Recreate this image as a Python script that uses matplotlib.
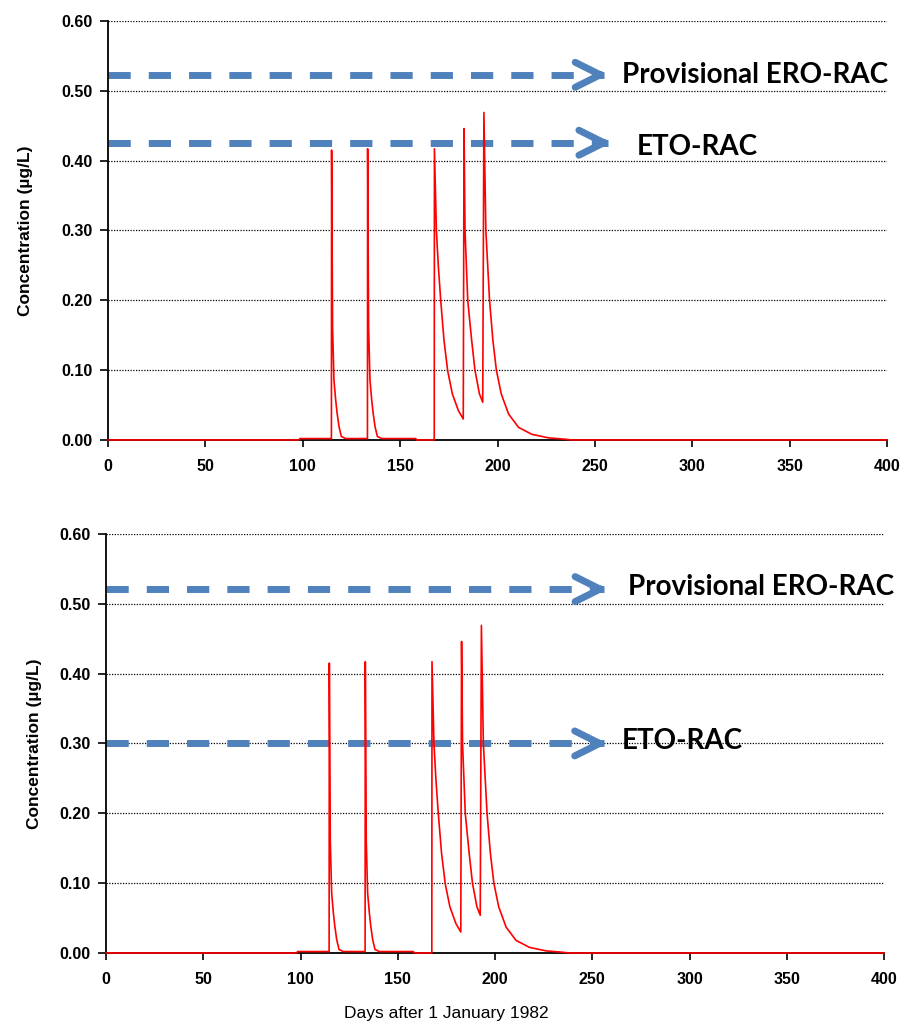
import matplotlib
matplotlib.use("Agg")
import matplotlib.pyplot as plt

# Concentration en fonction du temps
days = [0, 98, 98.5,
        114.7, 114.8, 115.3, 116.0, 116.9, 117.6, 118.6, 119.8, 122,
        133.2, 133.3, 133.8, 134.5, 135.4, 136.1, 137.1, 138.3, 140.5,
        158, 158.5,
        167.5, 167.6, 168.6, 169.6, 170.8, 172.5, 174.4, 176.8, 179.9, 182.4,
        182.8, 183.3, 184.7, 186.7, 188.4, 190.7, 192.4,
        193.0, 194.0, 195.9, 197.6, 199.4, 201.9, 205.7, 210.8, 217.7, 226.2,
        234.8, 238, 400]
conc = [0, 0, 0.002,
        0.002, 0.415, 0.16, 0.086, 0.057, 0.039, 0.019, 0.005, 0.002,
        0.002, 0.417, 0.16, 0.086, 0.057, 0.039, 0.019, 0.005, 0.002,
        0.002, 0.0,
        0.0, 0.417, 0.30, 0.249, 0.201, 0.143, 0.099, 0.066, 0.042, 0.030,
        0.446, 0.30, 0.20, 0.143, 0.10, 0.066, 0.054,
        0.469, 0.30, 0.20, 0.143, 0.10, 0.066, 0.037, 0.018, 0.008, 0.003,
        0.001, 0.0, 0.0]

# Seuils (RAC) pour chaque graphique
ero_rac = [0.523, 0.521]
eto_rac = [0.4257, 0.30]
arrow_end_ero = [256.7, 258.0]
arrow_end_eto = [258.6, 257.8]
label_ero = "Provisional ERO-RAC"
label_eto = "ETO-RAC"
label_x_ero = [263.9, 268.4]
label_x_eto = [271.4, 265.3]
label_y_ero = [0.523, 0.524]
label_y_eto = [0.42, 0.303]

xticks = [0, 50, 100, 150, 200, 250, 300, 350, 400]
yticks = [0.0, 0.1, 0.2, 0.3, 0.4, 0.5, 0.6]

blue = "#4F81BD"
tick_font = dict(family="Liberation Sans", weight="bold", size=11.5)

fig = plt.figure(figsize=(9.14, 10.26), dpi=100)
positions = [[0.1182, 0.5712, 0.8523, 0.4083],
             [0.1160, 0.0712, 0.8512, 0.4084]]
ylabel_x = [-0.096, -0.082]

for i, pos in enumerate(positions):
    ax = fig.add_axes(pos)
    ax.set_xlim(0, 400)
    ax.set_ylim(0, 0.6)
    ax.set_xticks(xticks)
    ax.set_yticks(yticks)
    ax.set_xticklabels([str(v) for v in xticks], fontdict=tick_font)
    ax.set_yticklabels([f"{v:.2f}" for v in yticks], fontdict=tick_font)
    ax.tick_params(axis="y", direction="out", length=6, width=1.2, pad=5)
    ax.tick_params(axis="x", direction="out", length=5, width=1.2, pad=9)
    for s in ["top", "right"]:
        ax.spines[s].set_visible(False)
    for s in ["left", "bottom"]:
        ax.spines[s].set_linewidth(1.3)
        ax.spines[s].set_color("black")

    # grille pointillée
    for yv in yticks[1:]:
        ax.axhline(yv, color="black", lw=0.9, ls=(0, (1, 1.2)), zorder=1)

    # seuils en flèches pointillées bleues
    for yv, xe in [(ero_rac[i], arrow_end_ero[i]), (eto_rac[i], arrow_end_eto[i])]:
        ax.plot([0, xe - 2], [yv, yv], color=blue, lw=5, dashes=(3.2, 2.6),
                solid_capstyle="butt", dash_capstyle="butt", zorder=2)
        ax.annotate("", xy=(xe, yv), xytext=(xe - 6, yv),
                    arrowprops=dict(arrowstyle="->,head_length=1.8,head_width=0.9",
                                    mutation_scale=10, lw=5, color=blue,
                                    shrinkA=0, shrinkB=0, capstyle="round"),
                    zorder=2)

    ax.text(label_x_ero[i], label_y_ero[i], label_ero, fontsize=20,
            family="Lato", weight="bold", va="center", ha="left")
    ax.text(label_x_eto[i], label_y_eto[i], label_eto, fontsize=20,
            family="Lato", weight="bold", va="center", ha="left")

    ax.plot(days, conc, color="red", lw=1.2, zorder=3, clip_on=False)

    ax.set_ylabel("Concentration (µg/L)", fontsize=12.5, weight="bold",
                  family="Liberation Sans")
    ax.yaxis.set_label_coords(ylabel_x[i], 0.5)
    if i == 1:
        ax.set_xlabel("Days after 1 January 1982", fontsize=12.5,
                      family="Liberation Sans")
        ax.xaxis.set_label_coords(0.4377, -0.1265)
        ax.xaxis.label.set_va("top")

fig.savefig("out.png", dpi=100)
